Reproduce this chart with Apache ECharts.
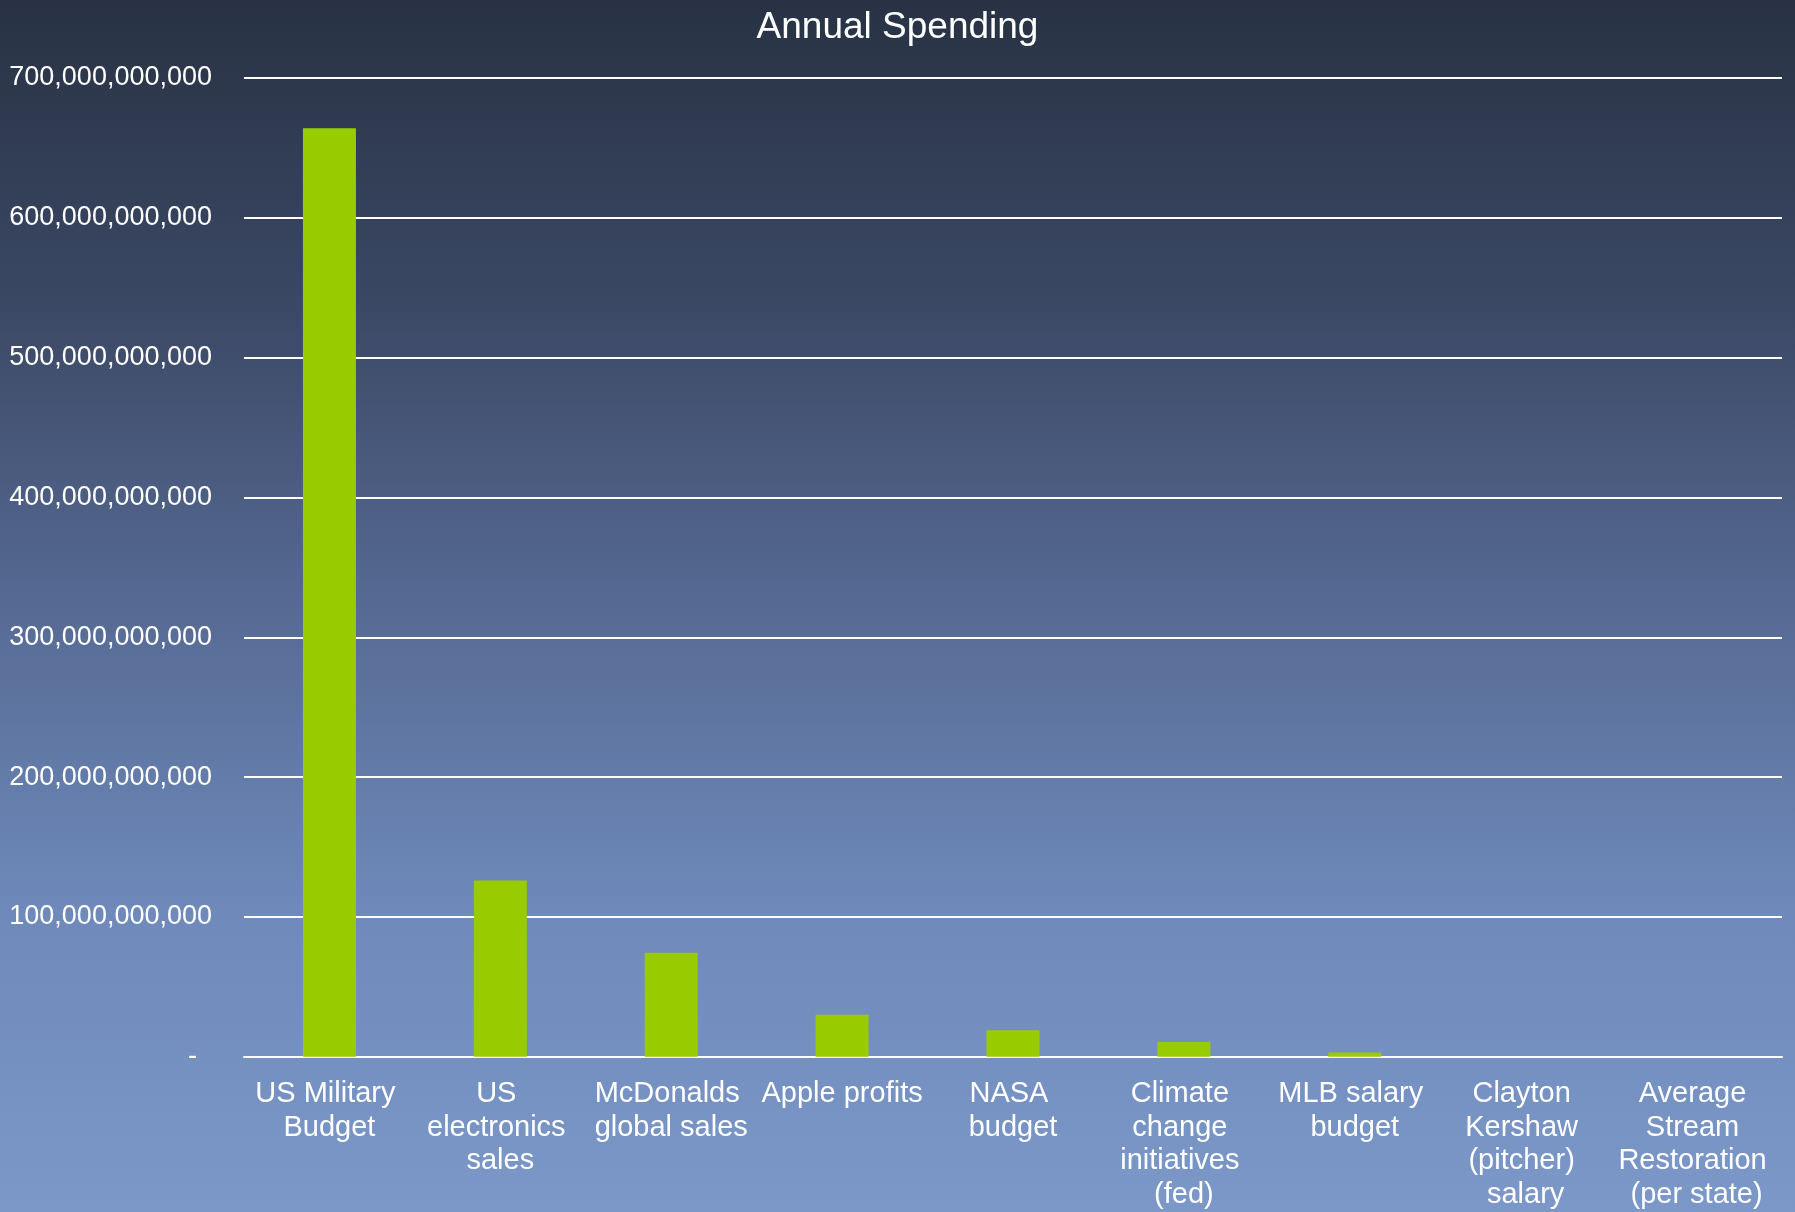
<!DOCTYPE html>
<html>
<head>
<meta charset="utf-8">
<script src="https://cdn.jsdelivr.net/npm/echarts@6/dist/echarts.min.js"></script>
<style>
html,body{margin:0;padding:0;width:1795px;height:1212px;overflow:hidden;}
#chart{width:1795px;height:1212px;}
</style>
</head>
<body>
<div id="chart"></div>
<script>
const titleText = 'Annual Spending';
const categories = [
  'US Military Budget',
  'US electronics sales',
  'McDonalds global sales',
  'Apple profits',
  'NASA budget',
  'Climate change initiatives (fed)',
  'MLB salary budget',
  'Clayton Kershaw (pitcher) salary',
  'Average Stream Restoration (per state)'
];
const spending = [664e9, 126e9, 74.5e9, 30e9, 19e9, 10.5e9, 3e9, 31e6, 20e6];
const yMin = 0, yMax = 700e9, yInterval = 100e9;

function fmt(v) {
  if (v === 0) return '-  ';
  return Math.round(v).toString().replace(/\B(?=(\d{3})+(?!\d))/g, ',');
}

const chart = echarts.init(document.getElementById('chart'), null, {renderer: 'canvas'});
chart.setOption({
  backgroundColor: new echarts.graphic.LinearGradient(0, 0, 0, 1, [
    {offset: 0, color: '#283244'},
    {offset: 0.25, color: '#3b4864'},
    {offset: 0.5, color: '#566a93'},
    {offset: 0.75, color: '#6e89ba'},
    {offset: 1, color: '#7b98c9'}
  ]),
  animation: false,
  title: {
    text: titleText,
    left: 'center',
    top: 4,
    textStyle: {color: '#ffffff', fontSize: 37, fontWeight: 'normal', fontFamily: 'Liberation Sans, Arial, sans-serif'}
  },
  grid: {left: 244, right: 13, top: 78, bottom: 145, containLabel: false},
  xAxis: {
    type: 'category',
    data: categories,
    axisLine: {show: true, lineStyle: {color: '#ffffff', width: 2}},
    axisTick: {show: false},
    axisLabel: {
      color: '#ffffff',
      fontSize: 29,
      lineHeight: 33.8,
      fontFamily: 'Liberation Sans, Arial, sans-serif',
      margin: 20,
      interval: 0,
      width: 168,
      overflow: 'break',
      align: 'center',
      verticalAlign: 'top'
    }
  },
  yAxis: {
    type: 'value',
    min: yMin,
    max: yMax,
    interval: yInterval,
    axisLine: {show: false},
    axisTick: {show: false},
    splitLine: {show: true, lineStyle: {color: '#ffffff', width: 2}},
    axisLabel: {
      color: '#ffffff',
      fontSize: 27,
      fontFamily: 'Liberation Sans, Arial, sans-serif',
      margin: 32,
      formatter: fmt
    }
  },
  series: [{
    type: 'bar',
    data: spending,
    barWidth: 53,
    itemStyle: {color: '#99cc00'}
  }]
});
</script>
</body>
</html>
